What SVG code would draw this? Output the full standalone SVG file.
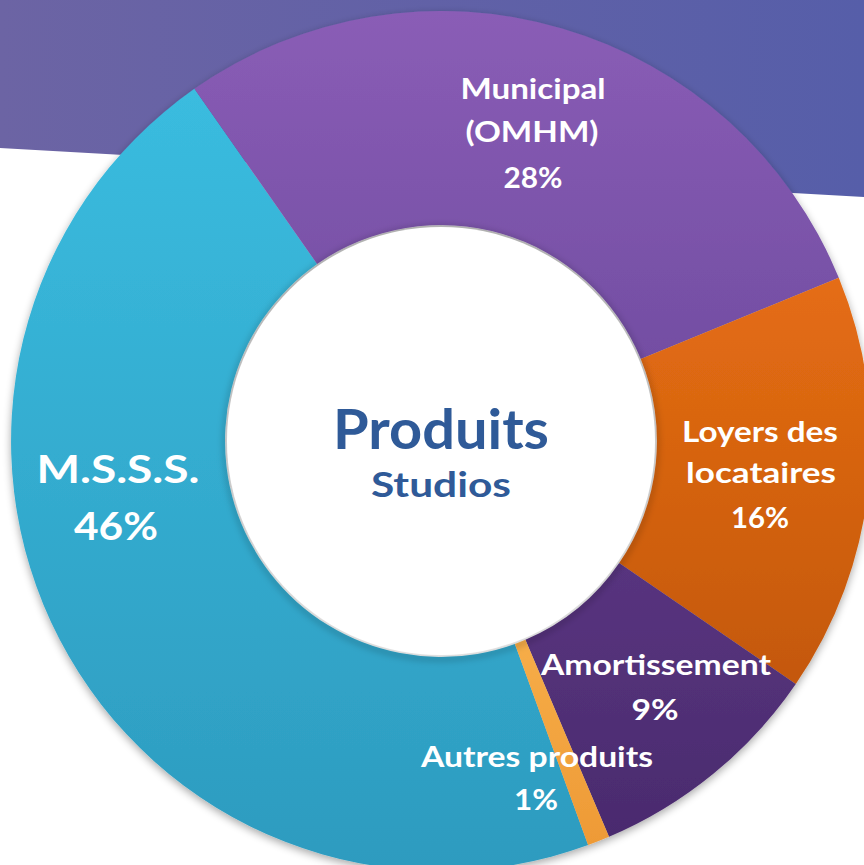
<svg xmlns="http://www.w3.org/2000/svg" width="864" height="865" viewBox="0 0 864 865">
<defs>
<linearGradient id="band" x1="0" y1="0" x2="1" y2="0">
<stop offset="0" stop-color="#6c64a4"/>
<stop offset="1" stop-color="#565ea9"/>
</linearGradient>
<linearGradient id="gCyan" x1="0" y1="0" x2="0" y2="1">
<stop offset="0" stop-color="#3abcdf"/>
<stop offset="1" stop-color="#2d9bbf"/>
</linearGradient>
<linearGradient id="gMun" x1="0" y1="0" x2="0" y2="1">
<stop offset="0" stop-color="#8a5db6"/>
<stop offset="1" stop-color="#734ea3"/>
</linearGradient>
<linearGradient id="gLoy" x1="0" y1="0" x2="0" y2="1">
<stop offset="0" stop-color="#e56d14"/>
<stop offset="1" stop-color="#c4580a"/>
</linearGradient>
<linearGradient id="gAm" x1="0" y1="0" x2="0" y2="1">
<stop offset="0" stop-color="#58347f"/>
<stop offset="1" stop-color="#4a2b6e"/>
</linearGradient>
<linearGradient id="gAut" x1="0" y1="0" x2="0" y2="1">
<stop offset="0" stop-color="#f6ad48"/>
<stop offset="1" stop-color="#ee9a36"/>
</linearGradient>
<filter id="shadow" x="-10%" y="-10%" width="120%" height="120%">
<feGaussianBlur in="SourceAlpha" stdDeviation="4"/>
<feOffset dx="0" dy="3" result="b"/>
<feComponentTransfer><feFuncA type="linear" slope="0.35"/></feComponentTransfer>
<feMerge><feMergeNode/><feMergeNode in="SourceGraphic"/></feMerge>
</filter>
<filter id="blur3"><feGaussianBlur stdDeviation="3"/></filter>
</defs>
<style>
.lbl{font-family:Lato,"Open Sans","Liberation Sans",sans-serif;font-weight:bold;fill:#ffffff;text-anchor:middle}
.s29{font-size:29px}
.s39{font-size:39px}
.ctr{font-family:Lato,"Open Sans","Liberation Sans",sans-serif;font-weight:bold;fill:#2f5a98;text-anchor:middle}
</style>
<rect x="0" y="0" width="864" height="865" fill="#ffffff"/>
<polygon points="0,0 864,0 864,197 0,148" fill="url(#band)"/>
<g filter="url(#shadow)">
<g id="msss">
<path d="M 588.1,845.1 A 430 430 0 0 1 194.4,88.8 L 317.1,264.1 A 216 216 0 0 0 514.9,644.0 Z" fill="url(#gCyan)"/>
</g>
<g id="municipal">
<path d="M 194.4,88.8 A 430 430 0 0 1 838.8,277.8 L 640.8,359.0 A 216 216 0 0 0 317.1,264.1 Z" fill="url(#gMun)"/>
</g>
<g id="loyers">
<path d="M 838.8,277.8 A 430 430 0 0 1 795.8,684.0 L 619.2,563.0 A 216 216 0 0 0 640.8,359.0 Z" fill="url(#gLoy)"/>
</g>
<g id="amortissement">
<path d="M 795.8,684.0 A 430 430 0 0 1 609.0,836.8 L 525.4,639.8 A 216 216 0 0 0 619.2,563.0 Z" fill="url(#gAm)"/>
</g>
<g id="autres">
<path d="M 609.0,836.8 A 430 430 0 0 1 588.1,845.1 L 514.9,644.0 A 216 216 0 0 0 525.4,639.8 Z" fill="url(#gAut)"/>
</g>
</g>
<circle cx="441" cy="443" r="216" fill="none" stroke="#000000" stroke-opacity="0.18" stroke-width="5" filter="url(#blur3)"/>
<circle cx="441" cy="441" r="214" fill="#ffffff"/>
<g id="labels">
<g id="label-municipal">
<text class="lbl s29" x="533" y="99" textLength="145" lengthAdjust="spacingAndGlyphs">Municipal</text>
<text class="lbl s29" x="532" y="142" textLength="133" lengthAdjust="spacingAndGlyphs">(OMHM)</text>
<text class="lbl s29" x="533" y="188" textLength="59" lengthAdjust="spacingAndGlyphs">28%</text>
</g>
<g id="label-loyers">
<text class="lbl s29" x="760" y="442" textLength="156" lengthAdjust="spacingAndGlyphs">Loyers des</text>
<text class="lbl s29" x="761" y="483" textLength="150" lengthAdjust="spacingAndGlyphs">locataires</text>
<text class="lbl s29" x="760" y="528" textLength="58" lengthAdjust="spacingAndGlyphs">16%</text>
</g>
<g id="label-msss">
<text class="lbl s39" x="118" y="483" textLength="163" lengthAdjust="spacingAndGlyphs">M.S.S.S.</text>
<text class="lbl s39" x="116" y="540" textLength="84" lengthAdjust="spacingAndGlyphs">46%</text>
</g>
<g id="label-amortissement">
<text class="lbl s29" x="656" y="675" textLength="230" lengthAdjust="spacingAndGlyphs">Amortissement</text>
<text class="lbl s29" x="655" y="720" textLength="47" lengthAdjust="spacingAndGlyphs">9%</text>
</g>
<g id="label-autres">
<text class="lbl s29" x="537" y="767" textLength="232" lengthAdjust="spacingAndGlyphs">Autres produits</text>
<text class="lbl s29" x="536" y="810" textLength="44" lengthAdjust="spacingAndGlyphs">1%</text>
</g>
<g id="center">
<text class="ctr" x="441" y="449" font-size="55" textLength="216" lengthAdjust="spacingAndGlyphs">Produits</text>
<text class="ctr" x="441" y="497" font-size="35" textLength="140" lengthAdjust="spacingAndGlyphs">Studios</text>
</g>
</g>
</svg>
